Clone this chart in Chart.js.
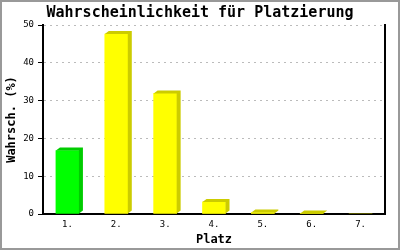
<!DOCTYPE html>
<html>
<head>
<meta charset="utf-8">
<script src="https://cdn.jsdelivr.net/npm/chart.js@4"></script>
<style>
  html, body { margin: 0; padding: 0; background: #fff; }
  #wrap { width: 400px; height: 250px; }
</style>
</head>
<body>
<div id="wrap"><canvas id="chartPlatz" width="400" height="250"></canvas></div>
<script>
const platz = ['1.', '2.', '3.', '4.', '5.', '6.', '7.'];
const wahrscheinlichkeit = [16.8, 47.6, 31.9, 3.2, 0.4, 0.1, 0];
const yTicks = [0, 10, 20, 30, 40, 50];

const MONO = "'DejaVu Sans Mono', 'Liberation Mono', monospace";

// erster Platz gruen, Rest gelb
const farbeVorne = i => i === 0 ? '#00ff00' : '#ffff00';
const farbeSeite = i => i === 0 ? '#00cc00' : '#cccc00';

// Seiten- und Deckflaeche fuer den 3D-Effekt
const balken3D = {
  id: 'balken3D',
  afterDatasetsDraw(chart) {
    const ctx = chart.ctx;
    const meta = chart.getDatasetMeta(0);
    const dx = 4, dy = 3;
    meta.data.forEach((bar, i) => {
      if (!wahrscheinlichkeit[i]) return;
      const { x, y, base, width } = bar.getProps(['x', 'y', 'base', 'width'], true);
      const l = x - width / 2, r = x + width / 2;
      ctx.save();
      ctx.fillStyle = farbeSeite(i);
      ctx.beginPath();
      ctx.moveTo(l, y);
      ctx.lineTo(l + dx, y - dy);
      ctx.lineTo(r + dx, y - dy);
      ctx.lineTo(r + dx, base - dy);
      ctx.lineTo(r, base);
      ctx.lineTo(r, y);
      ctx.closePath();
      ctx.fill();
      ctx.restore();
    });
  }
};

const rahmen = {
  id: 'rahmen',
  beforeDraw(chart) {
    const ctx = chart.ctx;
    ctx.save();
    ctx.fillStyle = '#fff';
    ctx.fillRect(0, 0, chart.width, chart.height);
    ctx.restore();
  },
  afterDraw(chart) {
    const ctx = chart.ctx;
    ctx.save();
    ctx.strokeStyle = '#999';
    ctx.lineWidth = 2;
    ctx.strokeRect(1, 1, chart.width - 2, chart.height - 2);
    ctx.restore();
  }
};

new Chart(document.getElementById('chartPlatz'), {
  type: 'bar',
  data: {
    labels: platz,
    datasets: [{
      data: wahrscheinlichkeit,
      backgroundColor: platz.map((p, i) => farbeVorne(i)),
      borderWidth: 0,
      barThickness: 23
    }]
  },
  options: {
    responsive: false,
    animation: false,
    layout: { padding: 0 },
    plugins: {
      legend: { display: false },
      tooltip: { enabled: false },
      title: {
        display: true,
        text: 'Wahrscheinlichkeit für Platzierung',
        color: '#000',
        font: { family: MONO, size: 15, weight: 'bold', lineHeight: 1.2 },
        padding: { top: 4, bottom: 3 }
      }
    },
    scales: {
      x: {
        grid: { display: false, drawTicks: false },
        border: { display: true, color: '#000', width: 2 },
        ticks: { color: '#000', font: { family: MONO, size: 9 }, padding: 5 },
        title: {
          display: true,
          text: 'Platz',
          color: '#000',
          font: { family: MONO, size: 12, weight: 'bold' },
          padding: { top: 0, bottom: 3 }
        },
        afterFit: s => { s.height = 36; }
      },
      y: {
        min: 0,
        max: 50,
        afterBuildTicks: s => { s.ticks = yTicks.map(v => ({ value: v })); },
        grid: {
          color: '#bbb',
          lineWidth: 1,
          tickColor: '#000',
          tickLength: 5,
          tickWidth: 1,
          tickBorderDash: []
        },
        border: { display: true, color: '#000', width: 2, dash: [2, 4] },
        ticks: { color: '#000', font: { family: MONO, size: 9 }, padding: 4 },
        title: {
          display: true,
          text: 'Wahrsch. (%)',
          color: '#000',
          font: { family: MONO, size: 12, weight: 'bold' },
          padding: { top: 5, bottom: 0 }
        },
        afterFit: s => { s.width = 43; }
      },
      rechts: {
        type: 'linear',
        position: 'right',
        display: true,
        grid: { display: false },
        ticks: { display: false },
        border: { display: true, color: '#000', width: 2 },
        afterFit: s => { s.width = 15; }
      }
    }
  },
  plugins: [rahmen, balken3D]
});
</script>
</body>
</html>
